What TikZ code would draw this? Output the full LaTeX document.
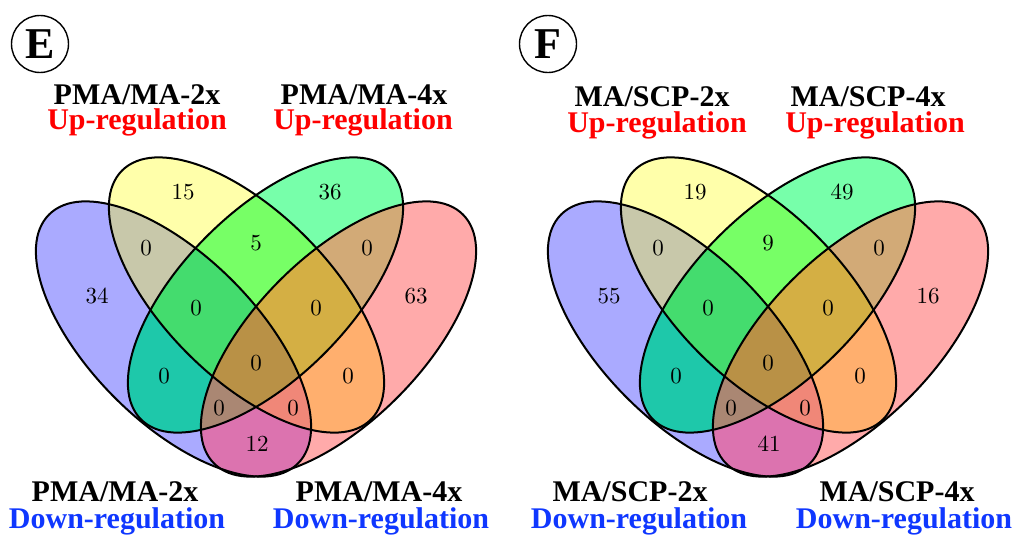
\documentclass[tikz,border=0pt]{standalone}
\usepackage{fontspec}
\newfontfamily\labfont{Liberation Serif}
\newfontfamily\numfont{lmroman10-regular.otf}
\definecolor{upred}{RGB}{255,0,0}
\definecolor{downblue}{RGB}{15,55,255}
\definecolor{cB}{RGB}{170,170,255}
\definecolor{cY}{RGB}{255,255,170}
\definecolor{cG}{RGB}{119,255,170}
\definecolor{cP}{RGB}{255,170,170}
\definecolor{cBY}{RGB}{200,200,170}
\definecolor{cYG}{RGB}{119,255,102}
\definecolor{cGP}{RGB}{210,170,119}
\definecolor{cBG}{RGB}{30,200,170}
\definecolor{cYP}{RGB}{255,175,110}
\definecolor{cBP}{RGB}{220,115,175}
\definecolor{cBYG}{RGB}{68,220,110}
\definecolor{cYGP}{RGB}{212,175,68}
\definecolor{cBGP}{RGB}{170,135,115}
\definecolor{cBYP}{RGB}{240,135,120}
\definecolor{cBYGP}{RGB}{185,145,70}
\tikzset{
  lbl/.style={font=\labfont\bfseries\fontsize{30}{30}\selectfont, anchor=base, inner sep=0pt},
  uplbl/.style={lbl, text=upred},
  downlbl/.style={lbl, text=downblue},
  num/.style={font=\numfont\fontsize{23}{23}\selectfont, inner sep=0pt},
  vline/.style={line width=2pt},
  badge/.style={circle, draw, line width=1.4pt, minimum size=57pt, inner sep=0pt,
    font=\labfont\bfseries\fontsize{44}{44}\selectfont}
}
\newcommand\VcB{\clip[rotate around={-45:(173.5,339)}] (173.5,339) ellipse [x radius=176, y radius=83];}
\newcommand\VcY{\clip[rotate around={-45:(246.5,295)}] (246.5,295) ellipse [x radius=176, y radius=83];}
\newcommand\VcG{\clip[rotate around={45:(265.5,295)}] (265.5,295) ellipse [x radius=176, y radius=83];}
\newcommand\VcP{\clip[rotate around={45:(338.5,339)}] (338.5,339) ellipse [x radius=176, y radius=83];}
\newcommand\Vfill[2]{\begin{scope}#1\fill[#2] (0,0) rectangle (512,546);\end{scope}}
\newcommand\vennfills{%
  \Vfill{\VcB}{cB}\Vfill{\VcY}{cY}\Vfill{\VcG}{cG}\Vfill{\VcP}{cP}%
  \Vfill{\VcB\VcY}{cBY}\Vfill{\VcB\VcG}{cBG}\Vfill{\VcB\VcP}{cBP}%
  \Vfill{\VcY\VcG}{cYG}\Vfill{\VcY\VcP}{cYP}\Vfill{\VcG\VcP}{cGP}%
  \Vfill{\VcB\VcY\VcG}{cBYG}\Vfill{\VcB\VcY\VcP}{cBYP}%
  \Vfill{\VcB\VcG\VcP}{cBGP}\Vfill{\VcY\VcG\VcP}{cYGP}%
  \Vfill{\VcB\VcY\VcG\VcP}{cBYGP}%
  \draw[vline, rotate around={-45:(173.5,339)}] (173.5,339) ellipse [x radius=176, y radius=83];
  \draw[vline, rotate around={-45:(246.5,295)}] (246.5,295) ellipse [x radius=176, y radius=83];
  \draw[vline, rotate around={45:(265.5,295)}] (265.5,295) ellipse [x radius=176, y radius=83];
  \draw[vline, rotate around={45:(338.5,339)}] (338.5,339) ellipse [x radius=176, y radius=83];
}
\begin{document}
\begin{tikzpicture}[x=1pt,y=-1pt]
\useasboundingbox (0,0) rectangle (1024,546);
% ---------- panel E ----------
\begin{scope}
\vennfills
\node[num] (E-Y)    at (183,192) {15};
\node[num] (E-G)    at (330,192) {36};
\node[num] (E-BY)   at (146,248) {0};
\node[num] (E-YG)   at (256,243) {5};
\node[num] (E-GP)   at (367,248) {0};
\node[num] (E-B)    at (97,296)  {34};
\node[num] (E-P)    at (416,296) {63};
\node[num] (E-BYG)  at (196,308) {0};
\node[num] (E-YGP)  at (316,308) {0};
\node[num] (E-BYGP) at (256,363) {0};
\node[num] (E-BG)   at (164,376) {0};
\node[num] (E-YP)   at (348,376) {0};
\node[num] (E-BGP)  at (219,408) {0};
\node[num] (E-BYP)  at (293,408) {0};
\node[num] (E-BP)   at (257,444) {12};
\end{scope}
% ---------- panel F ----------
\begin{scope}[xshift=512pt]
\vennfills
\node[num] (F-Y)    at (183,192) {19};
\node[num] (F-G)    at (330,192) {49};
\node[num] (F-BY)   at (146,248) {0};
\node[num] (F-YG)   at (256,243) {9};
\node[num] (F-GP)   at (367,248) {0};
\node[num] (F-B)    at (97,296)  {55};
\node[num] (F-P)    at (416,296) {16};
\node[num] (F-BYG)  at (196,308) {0};
\node[num] (F-YGP)  at (316,308) {0};
\node[num] (F-BYGP) at (256,363) {0};
\node[num] (F-BG)   at (164,376) {0};
\node[num] (F-YP)   at (348,376) {0};
\node[num] (F-BGP)  at (219,408) {0};
\node[num] (F-BYP)  at (293,408) {0};
\node[num] (F-BP)   at (257,444) {41};
\end{scope}
% ---------- badges ----------
\node[badge] (badgeE) at (40,44) {E};
\node[badge] (badgeF) at (548,44) {F};
% ---------- labels E ----------
\node[lbl]      (E-t1) at (137,104) {PMA/MA-2x};
\node[uplbl]    (E-t2) at (137,129) {Up-regulation};
\node[lbl]      (E-t3) at (364,104) {PMA/MA-4x};
\node[uplbl]    (E-t4) at (363,129) {Up-regulation};
\node[lbl]      (E-b1) at (115,501) {PMA/MA-2x};
\node[downlbl]  (E-b2) at (117,528) {Down-regulation};
\node[lbl]      (E-b3) at (379,501) {PMA/MA-4x};
\node[downlbl]  (E-b4) at (381,528) {Down-regulation};
% ---------- labels F ----------
\node[lbl]      (F-t1) at (652,106) {MA/SCP-2x};
\node[uplbl]    (F-t2) at (657,132) {Up-regulation};
\node[lbl]      (F-t3) at (868,106) {MA/SCP-4x};
\node[uplbl]    (F-t4) at (875,132) {Up-regulation};
\node[lbl]      (F-b1) at (630,501) {MA/SCP-2x};
\node[downlbl]  (F-b2) at (639,528) {Down-regulation};
\node[lbl]      (F-b3) at (897,501) {MA/SCP-4x};
\node[downlbl]  (F-b4) at (904,528) {Down-regulation};
\end{tikzpicture}
\end{document}
